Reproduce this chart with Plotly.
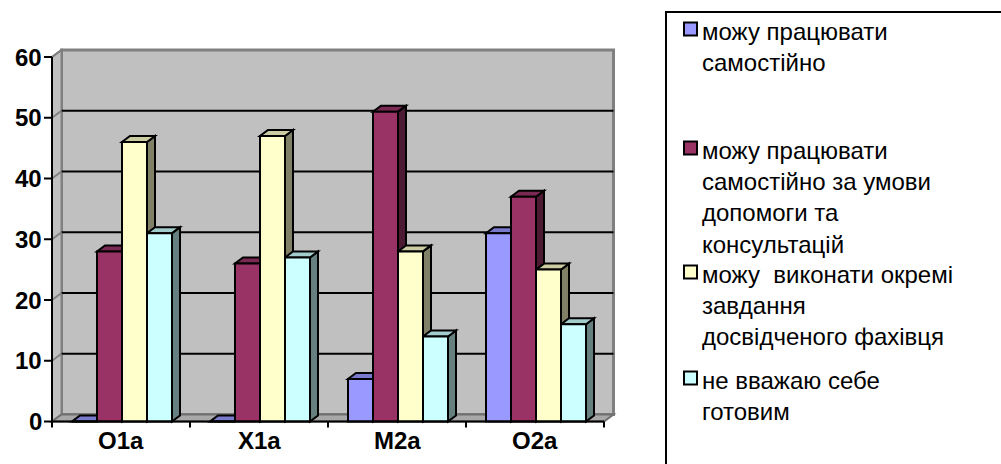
import plotly.graph_objects as go

# ---- data ----
categories = ["O1a", "X1a", "M2a", "O2a"]
series_names = [
    "можу працювати<br>самостійно",
    "можу працювати<br>самостійно за умови<br>допомоги та<br>консультацій",
    "можу\u00a0 виконати окремі<br>завдання<br>досвідченого фахівця",
    "не вважаю себе<br>готовим",
]
work_alone = [0, 0, 7, 31]
work_with_help = [28, 26, 51, 37]
separate_tasks = [46, 47, 28, 25]
not_ready = [31, 27, 14, 16]
y_ticks = [0, 10, 20, 30, 40, 50, 60]

series_values = [work_alone, work_with_help, separate_tasks, not_ready]
front_colors = ["#9999FF", "#993366", "#FFFFCC", "#CCFFFF"]
top_colors = ["#7A7ACC", "#7A2952", "#CCCCA3", "#A3CCCC"]
side_colors = ["#4D4D80", "#4D1A33", "#808066", "#668080"]

# ---- geometry of the pseudo-3D box (pixel scales -> data units) ----
W, H = 1001, 464
X0_PX, X_UNIT = 52, 138.0          # left edge of first category, px per category
Y0_PX, Y_UNIT = 421.5, 6.075       # baseline px, px per value unit
x_range = [-X0_PX / X_UNIT, (W - X0_PX) / X_UNIT]
y_range = [-(H - Y0_PX) / Y_UNIT, Y0_PX / Y_UNIT]

def px_x(p):
    return p / X_UNIT

def px_y(p):
    return p / Y_UNIT

wall_dx, wall_dy = px_x(9.5), px_y(7.0)   # depth of the back wall
bar_dx, bar_dy = px_x(8.0), px_y(6.0)     # depth of each column
bar_w = px_x(25.0)
group_start = px_x(20.0)
n_cat = len(categories)
y_max = y_ticks[-1]

WALL = "#C0C0C0"
WALL_EDGE = "#808080"
FLOOR = "#A8A8A8"
FONT = "Arial, Liberation Sans, sans-serif"

shapes = []

def poly(points, fill, line_color, line_width=2, xref="x", yref="y"):
    d = "M " + " L ".join(f"{x},{y}" for x, y in points) + " Z"
    return dict(type="path", path=d, xref=xref, yref=yref, fillcolor=fill,
                line=dict(color=line_color, width=line_width), layer="below")

# back wall
shapes.append(poly([(wall_dx, wall_dy), (n_cat + wall_dx, wall_dy),
                    (n_cat + wall_dx, y_max + wall_dy), (wall_dx, y_max + wall_dy)],
                   WALL, WALL_EDGE, 3))
# left wall
shapes.append(poly([(0, 0), (wall_dx, wall_dy), (wall_dx, y_max + wall_dy), (0, y_max)],
                   WALL, WALL_EDGE, 2))
# floor
shapes.append(poly([(0, 0), (n_cat, 0), (n_cat + wall_dx, wall_dy), (wall_dx, wall_dy)],
                   FLOOR, "#707070", 2))
# gridlines on the back wall and their diagonals on the left wall
for v in y_ticks[1:-1]:
    shapes.append(dict(type="line", xref="x", yref="y", x0=wall_dx, x1=n_cat + wall_dx,
                       y0=v + wall_dy, y1=v + wall_dy, line=dict(color="black", width=2),
                       layer="below"))
for v in y_ticks[1:]:
    shapes.append(dict(type="line", xref="x", yref="y", x0=0, x1=wall_dx,
                       y0=v, y1=v + wall_dy, line=dict(color=WALL_EDGE, width=2),
                       layer="below"))

# side and top faces of each column, painted left to right
for c in range(n_cat):
    for s, vals in enumerate(series_values):
        v = vals[c]
        xl = c + group_start + s * bar_w
        xr = xl + bar_w
        shapes.append(poly([(xr, 0), (xr + bar_dx, bar_dy), (xr + bar_dx, v + bar_dy), (xr, v)],
                           side_colors[s], "black", 2))
        shapes.append(poly([(xl, v), (xr, v), (xr + bar_dx, v + bar_dy), (xl + bar_dx, v + bar_dy)],
                           top_colors[s], "black", 2))

# front axis lines and ticks
shapes.append(dict(type="line", xref="x", yref="y", x0=0, x1=0, y0=0, y1=y_max,
                   line=dict(color="black", width=2)))
shapes.append(dict(type="line", xref="x", yref="y", x0=0, x1=n_cat, y0=0, y1=0,
                   line=dict(color="black", width=2)))
for v in y_ticks:
    shapes.append(dict(type="line", xref="x", yref="y", x0=-px_x(8), x1=0, y0=v, y1=v,
                       line=dict(color="black", width=2)))
for c in range(n_cat + 1):
    shapes.append(dict(type="line", xref="x", yref="y", x0=c, x1=c, y0=0, y1=-px_y(6),
                       line=dict(color="black", width=2)))

fig = go.Figure()
for s, vals in enumerate(series_values):
    fig.add_trace(go.Bar(
        x=list(range(n_cat)), y=vals,
        offset=group_start + s * bar_w, width=bar_w,
        marker=dict(color=front_colors[s], line=dict(color="black", width=2)),
        name=series_names[s].replace("<br>", " "),
        showlegend=False, hoverinfo="skip",
    ))

annotations = []
for v in y_ticks:
    annotations.append(dict(x=0, y=v, xref="x", yref="y", text=f"<b>{v}</b>",
                            showarrow=False, xanchor="right", yanchor="middle", xshift=-8,
                            font=dict(family=FONT, size=24, color="black")))
for c, name in enumerate(categories):
    annotations.append(dict(x=c + 0.5, y=0, xref="x", yref="y", text=f"<b>{name}</b>",
                            showarrow=False, xanchor="center", yanchor="middle", yshift=-19,
                            font=dict(family=FONT, size=24, color="black")))

# legend box drawn by hand so entries can be spaced like the original
shapes.append(dict(type="rect", xref="paper", yref="paper",
                   x0=666 / W, x1=1.02, y0=-0.02, y1=1 - 12 / H,
                   line=dict(color="black", width=2), fillcolor="white"))
entry_top_px = [35, 154, 278, 384]
for s, name in enumerate(series_names):
    cy = entry_top_px[s] - 6
    shapes.append(dict(type="rect", xref="paper", yref="paper",
                       x0=684 / W, x1=697 / W, y0=1 - (cy + 6.5) / H, y1=1 - (cy - 6.5) / H,
                       fillcolor=front_colors[s], line=dict(color="black", width=2)))
    annotations.append(dict(x=700 / W, y=1 - (entry_top_px[s] - 19) / H,
                            xref="paper", yref="paper", text=name, align="left",
                            showarrow=False, xanchor="left", yanchor="top",
                            font=dict(family=FONT, size=24, color="black")))

fig.update_layout(
    width=W, height=H,
    margin=dict(l=0, r=0, t=0, b=0),
    paper_bgcolor="white", plot_bgcolor="white",
    barmode="overlay",
    xaxis=dict(range=x_range, visible=False, fixedrange=True),
    yaxis=dict(range=y_range, visible=False, fixedrange=True),
    shapes=shapes, annotations=annotations,
)

fig.write_html("out.html")
